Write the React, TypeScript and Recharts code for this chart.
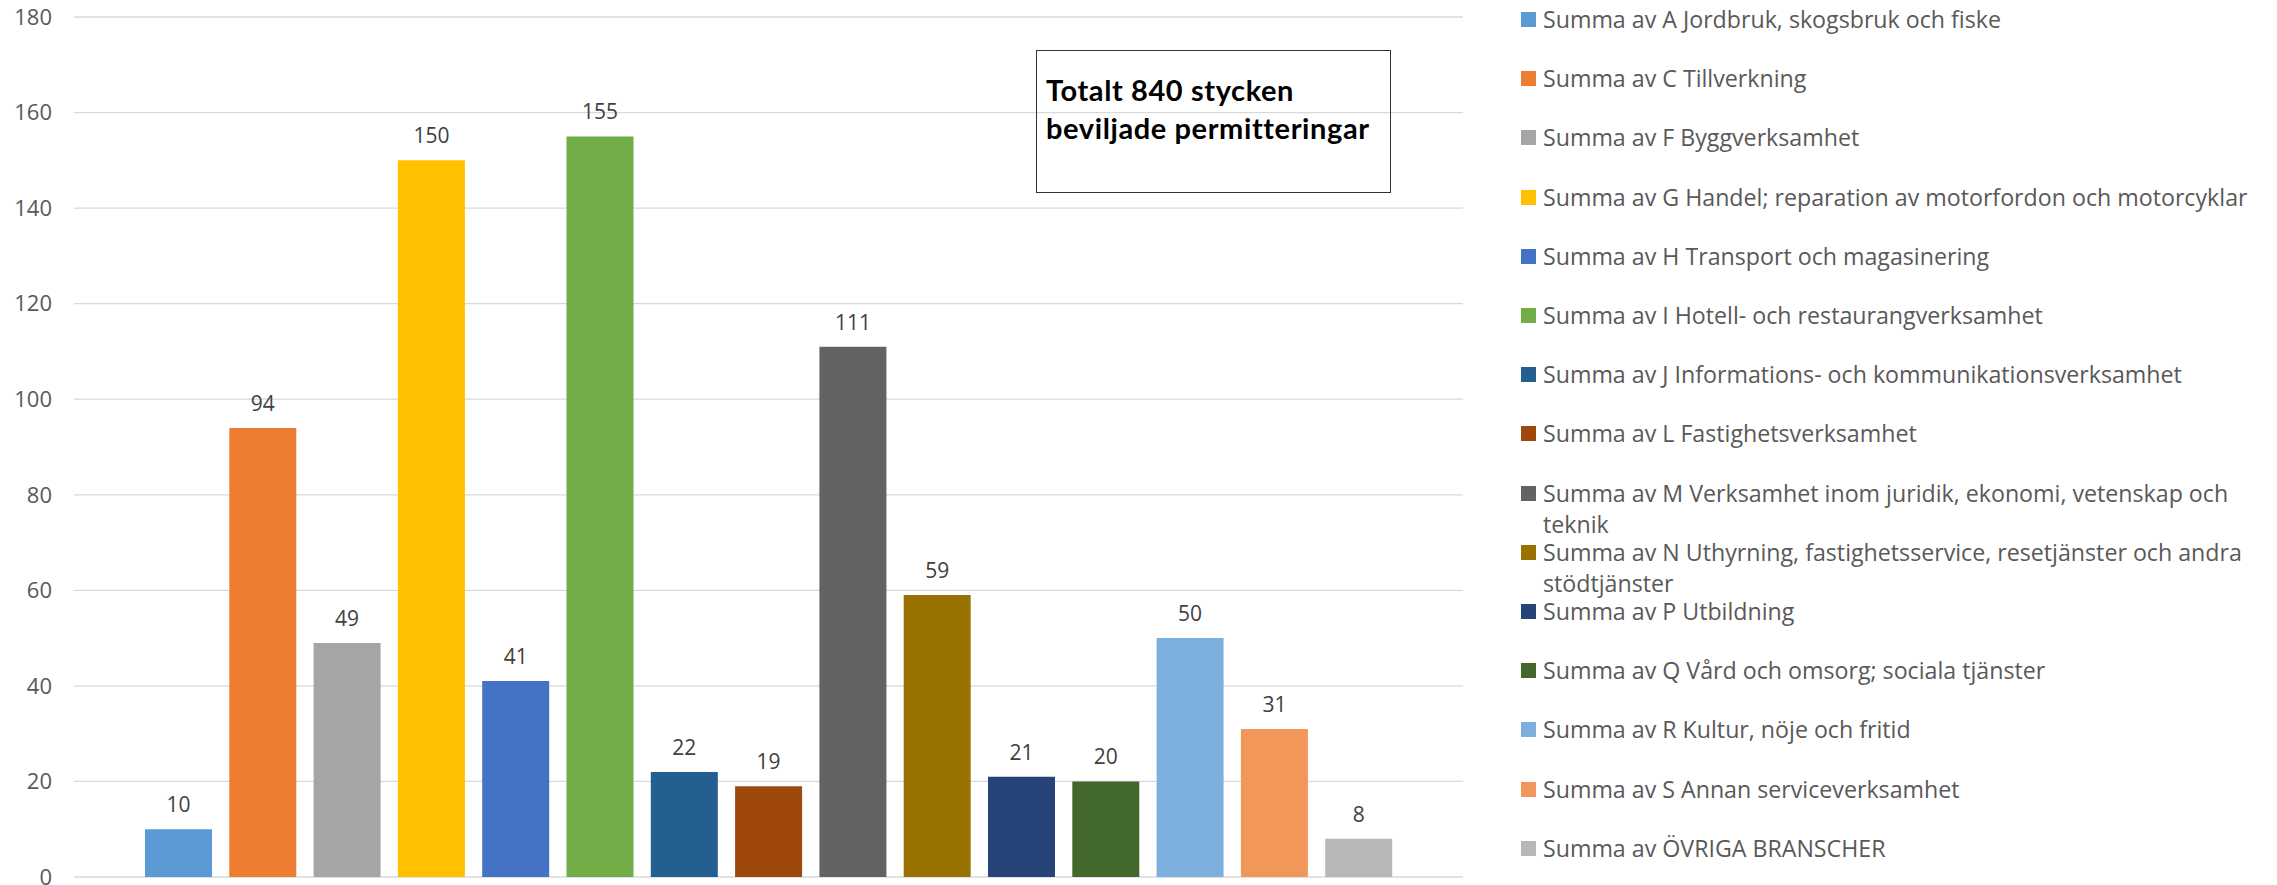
import React from "react";
import { BarChart, Bar, XAxis, YAxis, CartesianGrid, Legend, LabelList } from "recharts";

const keys = ["A", "C", "F", "G", "H", "I", "J", "L", "M", "N", "P", "Q", "R", "S", "OVR"];

const categories = [
  "Summa av A Jordbruk, skogsbruk och fiske",
  "Summa av C Tillverkning",
  "Summa av F Byggverksamhet",
  "Summa av G Handel; reparation av motorfordon och motorcyklar",
  "Summa av H Transport och magasinering",
  "Summa av I Hotell- och restaurangverksamhet",
  "Summa av J Informations- och kommunikationsverksamhet",
  "Summa av L Fastighetsverksamhet",
  "Summa av M Verksamhet inom juridik, ekonomi, vetenskap och teknik",
  "Summa av N Uthyrning, fastighetsservice, resetjänster och andra stödtjänster",
  "Summa av P Utbildning",
  "Summa av Q Vård och omsorg; sociala tjänster",
  "Summa av R Kultur, nöje och fritid",
  "Summa av S Annan serviceverksamhet",
  "Summa av ÖVRIGA BRANSCHER",
];

const values = [10, 94, 49, 150, 41, 155, 22, 19, 111, 59, 21, 20, 50, 31, 8];

const colors = [
  "#5B9BD5", "#ED7D31", "#A5A5A5", "#FFC000", "#4472C4", "#70AD47", "#255E91",
  "#9E480E", "#636363", "#997300", "#264478", "#43682B", "#7CAFDD", "#F1975A", "#B7B7B7",
];

const yTicks = [0, 20, 40, 60, 80, 100, 120, 140, 160, 180];

const totalText = ["Totalt 840 stycken", "beviljade permitteringar"];

// one category, one series per industry (like the Excel pivot chart)
const row: Record<string, number | string> = { name: "" };
keys.forEach((k, i) => {
  row[k] = values[i];
});
const data = [row];

const LEGEND_W = 756;

function LegendContent(props: any) {
  const payload = props.payload || [];
  return (
    <div style={{ position: "relative", width: LEGEND_W, height: 880 }}>
      {payload.map((entry: any, i: number) => (
        <div
          key={entry.value}
          style={{
            position: "absolute",
            top: i * 59.2 + 4,
            left: 0,
            width: LEGEND_W,
            display: "flex",
            alignItems: "flex-start",
          }}
        >
          <span
            style={{
              width: 15,
              height: 15,
              background: entry.color,
              marginTop: 8,
              marginRight: 7,
              flex: "none",
            }}
          />
          <span
            style={{
              width: 726,
              fontFamily: "'Open Sans', sans-serif",
              fontSize: 23.2,
              lineHeight: "31px",
              color: "#595959",
            }}
          >
            {entry.value}
          </span>
        </div>
      ))}
    </div>
  );
}

export default function App() {
  return (
    <div style={{ position: "relative", width: 2277, height: 885, background: "#fff" }}>
      <style>{"body{margin:0;}"}</style>
      <BarChart
        width={2277}
        height={885}
        data={data}
        margin={{ top: 17, right: 814 - LEGEND_W, bottom: 8, left: 0 }}
        barGap={17.3}
      >
        <CartesianGrid vertical={false} stroke="#D9D9D9" strokeWidth={1.3} />
        <XAxis dataKey="name" hide />
        <YAxis
          domain={[0, 180]}
          ticks={yTicks}
          interval={0}
          width={74}
          axisLine={false}
          tickLine={false}
          tickMargin={16}
          tick={{ fill: "#595959", fontSize: 22, fontFamily: "'Open Sans', sans-serif" }}
        />
        <Legend
          layout="vertical"
          align="right"
          verticalAlign="top"
          wrapperStyle={{ left: 1521, top: 0, width: LEGEND_W }}
          content={<LegendContent />}
        />
        {keys.map((k, i) => (
          <Bar
            key={k}
            dataKey={k}
            name={categories[i]}
            fill={colors[i]}
            barSize={67}
            isAnimationActive={false}
          >
            <LabelList
              dataKey={k}
              position="top"
              offset={17}
              fill="#404040"
              fontSize={21}
              fontFamily="'Open Sans', sans-serif"
            />
          </Bar>
        ))}
      </BarChart>
      <div
        style={{
          position: "absolute",
          left: 1036,
          top: 50,
          width: 355,
          height: 143,
          boxSizing: "border-box",
          border: "1.5px solid #333",
          padding: "20px 0 0 9px",
          fontFamily: "Lato, sans-serif",
          fontWeight: 700,
          fontSize: 29,
          letterSpacing: 0.6,
          lineHeight: "38px",
          color: "#000",
        }}
      >
        {totalText.map((t) => (
          <div key={t}>{t}</div>
        ))}
      </div>
    </div>
  );
}
